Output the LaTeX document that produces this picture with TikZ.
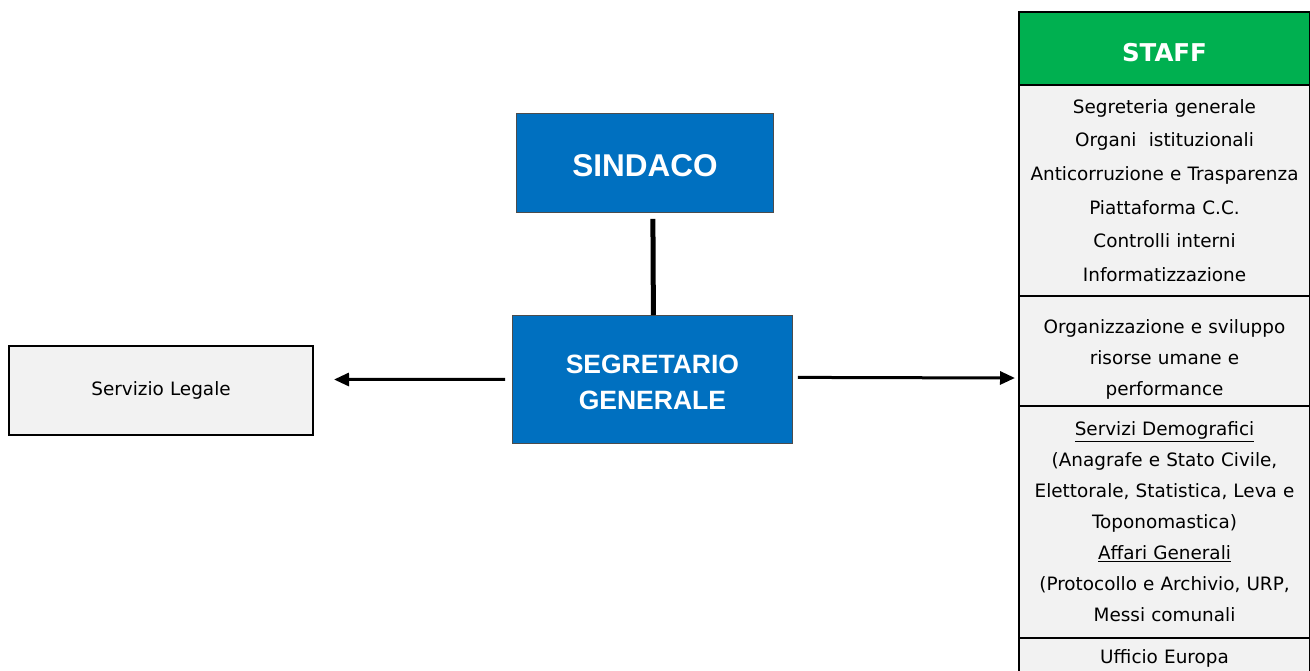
\documentclass[tikz,border=0pt]{standalone}
\usepackage{fontspec}
\setmainfont{DejaVu Sans}
\newfontfamily\arialfont{Liberation Sans}
\usepackage{tikz}
\usetikzlibrary{positioning, calc, arrows.meta}
\definecolor{bluebg}{HTML}{0070C0}
\definecolor{greenbg}{HTML}{00B050}
\definecolor{greybg}{HTML}{F2F2F2}

\begin{document}
\begin{tikzpicture}[x=1pt, y=-1pt,
	bluebox/.style={draw=black!70, line width=0.8pt, fill=bluebg, text=white, anchor=north west, inner sep=0pt, align=center},
	staffbox/.style={draw, line width=2pt, fill=greybg, anchor=north west, inner sep=0pt, minimum width=291pt, text width=289pt, align=center, font=\fontsize{18.4}{31}\selectfont},
	link/.style={line width=3pt, -{Triangle[length=15pt, width=13pt]}}]
	
	\useasboundingbox (0,0) rectangle (1310,670);
	
	%//top and middle boxes
	\node [bluebox, minimum width=257pt, minimum height=99pt, font=\arialfont\bfseries\fontsize{31.5}{34}\selectfont] (sindaco) at (516,113) {\raisebox{-3pt}[\height][\depth]{SINDACO}};
	\node [bluebox, minimum width=280pt, minimum height=128pt, font=\arialfont\bfseries\fontsize{26.5}{36}\selectfont] (segretario) at (512,315) {\raisebox{-3pt}[\height][\depth]{\parbox{280pt}{\centering SEGRETARIO\\GENERALE}}};
	
	\node [staffbox, minimum height=89pt, minimum width=304pt, text width=300pt] (legale) at (8,345) {Servizio Legale};
	
	%//staff column
	\node [staffbox, fill=greenbg, text=white, minimum height=73pt, font=\bfseries\fontsize{24.5}{28}\selectfont] (staff) at (1018,11) {\raisebox{-4pt}[\height][\depth]{STAFF}};
	\node [staffbox, minimum height=211pt, font=\fontsize{18.4}{33.6}\selectfont] (segreteria) at (1018,84) {Segreteria generale\\Organi~ istituzionali\\Anticorruzione e Trasparenza\\Piattaforma C.C.\\Controlli interni\\Informatizzazione};
	\node [staffbox, minimum height=110pt] (risorse) at (1018,295) {\raisebox{-8pt}[\height][\depth]{\parbox{289pt}{\centering Organizzazione e sviluppo\\risorse umane e\\performance}}};
	\node [staffbox, minimum height=232pt] (demografici) at (1018,405) {\underline{Servizi Demografici}\\(Anagrafe e Stato Civile,\\Elettorale, Statistica, Leva e\\Toponomastica)\\\underline{Affari Generali}\\(Protocollo e Archivio, URP,\\Messi comunali};
	\node [staffbox, minimum height=40pt] (europa) at (1018,637) {Ufficio Europa};
	
	%//connectors
	\draw [line width=5pt] ($(sindaco.south)+(8,6)$) -- ($(segretario.north)+(1,0)$);
	\draw [link] ($(segretario.west)+(-7,0)$) -- ($(legale.east)+(20,-11)$);
	\draw [link] ($(segretario.east)+(5,-2)$) -- ($(risorse.west)+(-3,27)$);
	
\end{tikzpicture}
\end{document}
